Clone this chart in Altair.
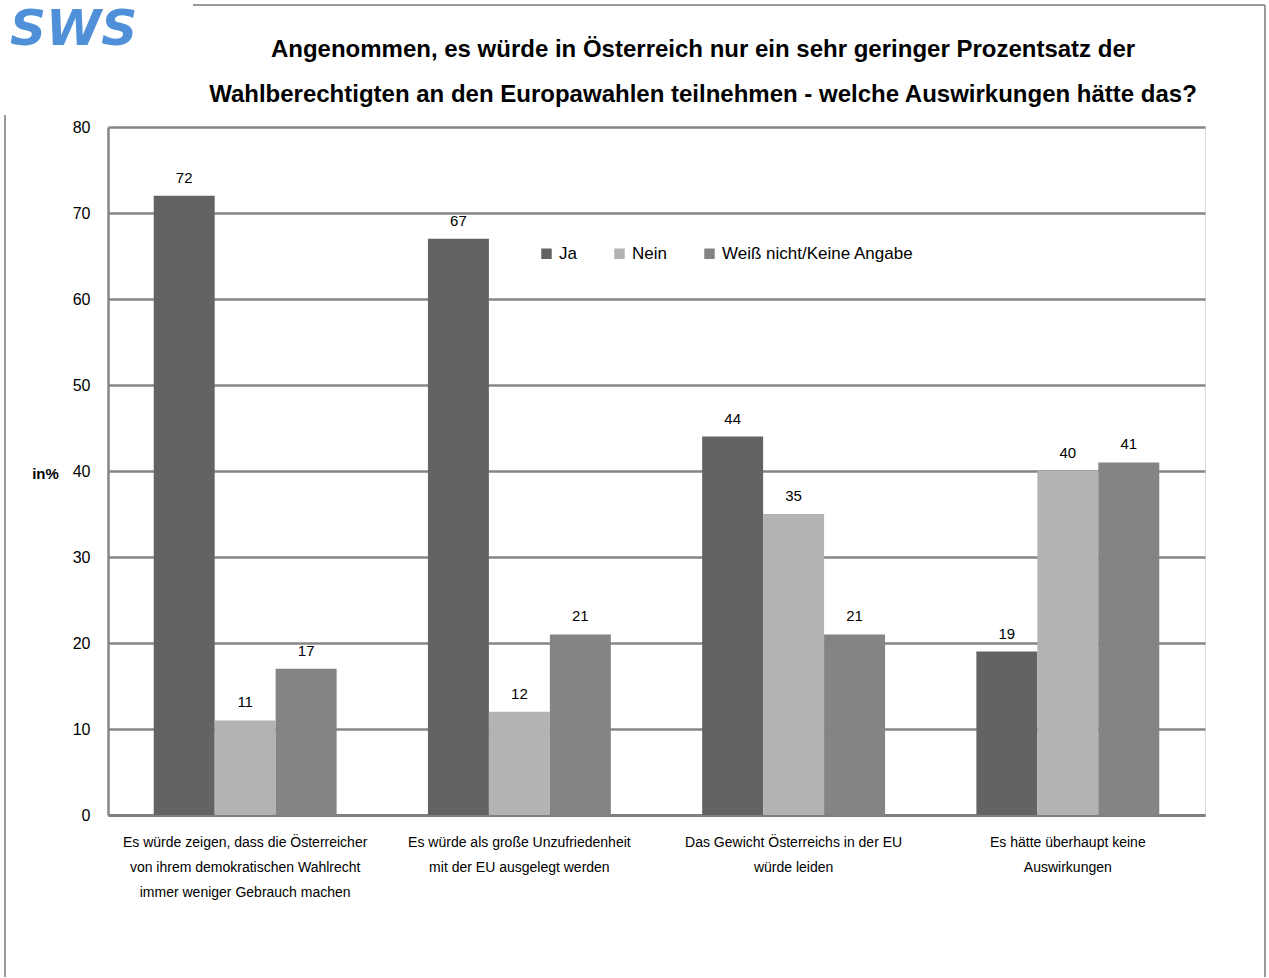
import altair as alt
import pandas as pd

categories = [
    "Es würde zeigen, dass die Österreicher|von ihrem demokratischen Wahlrecht|immer weniger Gebrauch machen",
    "Es würde als große Unzufriedenheit|mit der EU ausgelegt werden",
    "Das Gewicht Österreichs in der EU|würde leiden",
    "Es hätte überhaupt keine|Auswirkungen",
]
series = ["Ja", "Nein", "Weiß nicht/Keine Angabe"]
ja = [72, 67, 44, 19]
nein = [11, 12, 35, 40]
weiss = [17, 21, 21, 41]
colors = ["#636363", "#b3b3b3", "#848484"]
title_lines = [
    "Angenommen, es würde in Österreich nur ein sehr geringer Prozentsatz der",
    "Wahlberechtigten an den Europawahlen teilnehmen - welche Auswirkungen hätte das?",
]

rows = []
for s, vals in zip(series, [ja, nein, weiss]):
    for c, v in zip(categories, vals):
        rows.append({"cat": c, "series": s, "value": v})
df = pd.DataFrame(rows)

FONT = "Liberation Sans, Arial"
GRID = "#868686"

base = alt.Chart(df).encode(
    x=alt.X(
        "cat:N",
        sort=categories,
        scale=alt.Scale(paddingInner=0.333, paddingOuter=0.1667),
        axis=alt.Axis(
            title=None,
            labelAngle=0,
            labelExpr="split(datum.value, '|')",
            labelLineHeight=25,
            labelFontSize=14,
            labelFont=FONT,
            labelColor="#000000",
            labelPadding=20,
            labelLimit=0,
            ticks=False,
            domainColor="#808080",
            domainWidth=3,
        ),
    ),
    xOffset=alt.XOffset("series:N", sort=series),
    y=alt.Y(
        "value:Q",
        scale=alt.Scale(domain=[0, 80]),
        axis=alt.Axis(
            values=[0, 10, 20, 30, 40, 50, 60, 70, 80],
            title="in%",
            titleAngle=0,
            titleFont=FONT,
            titleFontSize=15,
            titleFontWeight="bold",
            titleX=-63,
            titleY=346,
            titleAlign="center",
            titleBaseline="middle",
            labelFont=FONT,
            labelFontSize=16,
            labelColor="#000000",
            labelPadding=18,
            ticks=False,
            domainColor=GRID,
            domainWidth=2.5,
            grid=True,
            gridColor=GRID,
            gridWidth=2.5,
        ),
    ),
)

bars = base.mark_bar().encode(
    color=alt.Color(
        "series:N",
        sort=series,
        scale=alt.Scale(domain=series, range=colors),
        legend=alt.Legend(
            title=None,
            orient="none",
            legendX=430,
            legendY=118,
            direction="horizontal",
            symbolType="square",
            symbolSize=110,
            symbolStrokeWidth=0,
            labelFont=FONT,
            labelFontSize=17,
            labelColor="#000000",
            labelLimit=0,
            columnPadding=34,
            labelOffset=4,
        ),
    )
)

labels = base.mark_text(dy=-18, font=FONT, fontSize=15, color="#000000").encode(
    text="value:Q"
)

one = alt.Data(values=[{"a": 1}])
frame_color = "#9a9a9a"
top_line = alt.Chart(one).mark_rule(color=frame_color, strokeWidth=2).encode(
    x=alt.value(85), x2=alt.value(1157), y=alt.value(-122)
)
right_line = alt.Chart(one).mark_rule(color=frame_color, strokeWidth=2).encode(
    x=alt.value(1157), y=alt.value(-122), y2=alt.value(850)
)
left_line = alt.Chart(one).mark_rule(color=frame_color, strokeWidth=2).encode(
    x=alt.value(-103), y=alt.value(-12), y2=alt.value(850)
)

title = alt.Chart(one).mark_text(
    font=FONT, fontSize=24, fontWeight="bold", color="#000000",
    align="center", baseline="middle", lineHeight=45,
).encode(
    x=alt.value(595), y=alt.value(-77), text=alt.value(title_lines)
)

logo = alt.Chart(one).mark_text(
    font="DejaVu Sans", fontSize=50, fontWeight="bold", fontStyle="italic",
    color="#4f90d8", align="left", baseline="alphabetic",
).encode(
    x=alt.value(-98), y=alt.value(-82), text=alt.value("SWS")
)

chart = alt.layer(
    bars, labels, top_line, right_line, left_line, title, logo
).properties(
    width=1097,
    height=688,
    autosize=alt.AutoSizeParams(type="none"),
    padding={"left": 108, "top": 127, "right": 64, "bottom": 163},
).configure_view(stroke=None).configure(background="#ffffff")

chart.save("out.html", embed_options={"renderer": "svg", "actions": False})
